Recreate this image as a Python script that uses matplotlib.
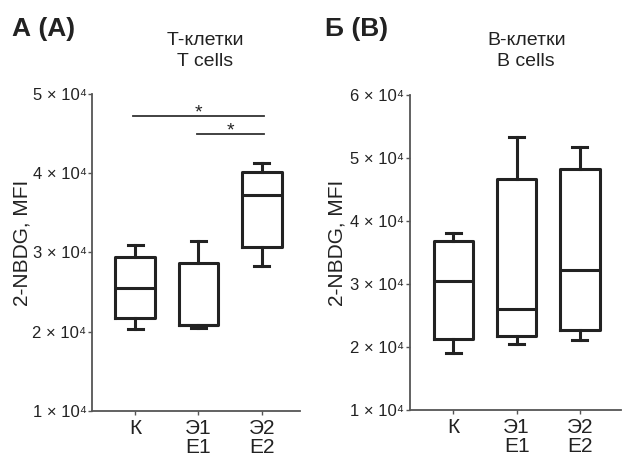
import matplotlib
matplotlib.use("Agg")
import matplotlib.pyplot as plt

plt.rcParams['font.family'] = ['Liberation Sans Narrow', 'Liberation Sans', 'DejaVu Sans']

categories = ["К", "Э1\nE1", "Э2\nE2"]

# T cells (panel A)
t_whislo = [2.04e4, 2.05e4, 2.83e4]
t_q1 = [2.17e4, 2.08e4, 3.07e4]
t_med = [2.55e4, 2.09e4, 3.73e4]
t_q3 = [2.94e4, 2.87e4, 4.01e4]
t_whishi = [3.09e4, 3.15e4, 4.13e4]
t_sig_pairs = [(0, 2), (1, 2)]
t_sig_heights = [4.72e4, 4.49e4]
t_ticks = [1e4, 2e4, 3e4, 4e4, 5e4]
t_ticklabels = ["1 × 10⁴", "2 × 10⁴", "3 × 10⁴", "4 × 10⁴", "5 × 10⁴"]

# B cells (panel B)
b_whislo = [1.90e4, 2.05e4, 2.11e4]
b_q1 = [2.12e4, 2.18e4, 2.27e4]
b_med = [3.05e4, 2.60e4, 3.22e4]
b_q3 = [3.69e4, 4.67e4, 4.82e4]
b_whishi = [3.81e4, 5.34e4, 5.17e4]
b_ticks = [1e4, 2e4, 3e4, 4e4, 5e4, 6e4]
b_ticklabels = ["1 × 10⁴", "2 × 10⁴", "3 × 10⁴", "4 × 10⁴", "5 × 10⁴", "6 × 10⁴"]

fig = plt.figure(figsize=(6.22, 4.57), dpi=100)
ax1 = fig.add_axes([0.148, 0.1007, 0.334, 0.694])
ax2 = fig.add_axes([0.659, 0.103, 0.339, 0.689])

AXC = "#555555"


def draw(ax, wlo, q1, med, q3, whi, ticks, ticklabels, ylim, xlim, labx):
    stats = []
    for i in range(len(categories)):
        stats.append(dict(whislo=wlo[i], q1=q1[i], med=med[i], q3=q3[i], whishi=whi[i], fliers=[]))
    lw = 2.2
    ax.bxp(stats, positions=range(len(categories)), widths=0.63, showfliers=False,
           boxprops=dict(color="#222222", linewidth=lw),
           medianprops=dict(color="#222222", linewidth=lw),
           whiskerprops=dict(color="#222222", linewidth=lw),
           capprops=dict(color="#222222", linewidth=lw),
           capwidths=0.24)
    ax.set_ylim(*ylim)
    ax.set_xlim(*xlim)
    ax.set_yticks(ticks)
    ax.set_yticklabels(ticklabels, fontsize=12, color="#222222")
    ax.set_xticks(range(len(categories)))
    ax.set_xticklabels(categories, fontsize=15, color="#222222", linespacing=1.0)
    for s in ["top", "right"]:
        ax.spines[s].set_visible(False)
    for s in ["left", "bottom"]:
        ax.spines[s].set_color(AXC)
        ax.spines[s].set_linewidth(1.3)
    ax.tick_params(axis="both", length=3, width=1, color=AXC, pad=1)
    ax.tick_params(axis="x", pad=3)
    ax.set_ylabel("2-NBDG, MFI", fontsize=15, color="#222222", va="center")
    ax.yaxis.set_label_coords(labx, 0.53)


draw(ax1, t_whislo, t_q1, t_med, t_q3, t_whishi, t_ticks, t_ticklabels, (1e4, 5e4), (-0.68, 2.6), -0.337)
draw(ax2, b_whislo, b_q1, b_med, b_q3, b_whishi, b_ticks, b_ticklabels, (1e4, 6e4), (-0.69, 2.65), -0.346)

for (a, b), h in zip(t_sig_pairs, t_sig_heights):
    ax1.plot([a - 0.03, b + 0.03], [h, h], color="#333333", lw=1.3, clip_on=False)
    ax1.text((a + b) / 2, h - 0.02e4, "*", ha="center", va="baseline",
             fontsize=14, color="#222222")

fig.text(0.330, 0.888, "Т-клетки\nT cells", ha="center", va="center", fontsize=14,
         color="#222222", linespacing=1.35)
fig.text(0.846, 0.888, "B-клетки\nB cells", ha="center", va="center", fontsize=14,
         color="#222222", linespacing=1.35)
fig.text(0.02, 0.937, "А (A)", ha="left", va="center", fontsize=19, fontweight="bold", color="#222222")
fig.text(0.522, 0.937, "Б (В)", ha="left", va="center", fontsize=19, fontweight="bold", color="#222222")

fig.savefig("out.png", dpi=100)
